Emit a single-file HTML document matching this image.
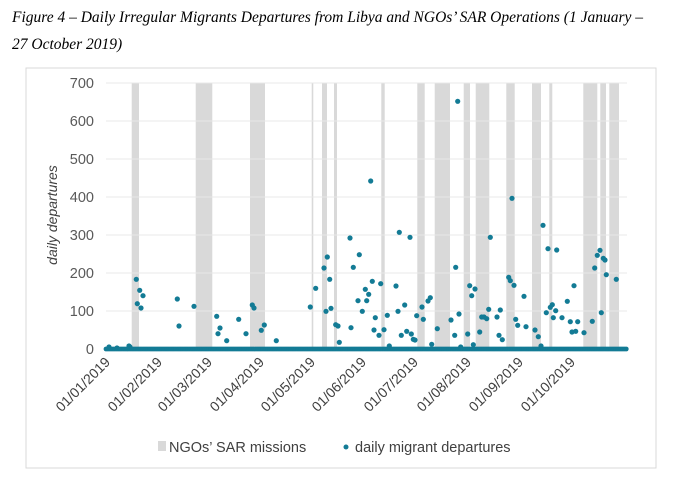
<!DOCTYPE html>
<html><head><meta charset="utf-8"><style>
body{margin:0;background:#fff;width:680px;height:481px;overflow:hidden}
</style></head><body>
<svg id="s" width="680" height="481" xmlns="http://www.w3.org/2000/svg" font-family="Liberation Sans, sans-serif">
<text x="12" y="22" font-family="Liberation Serif, serif" font-style="italic" font-size="15.5">Figure 4 – Daily Irregular Migrants Departures from Libya and NGOs’ SAR Operations (1 January –</text>
<text x="12" y="49" font-family="Liberation Serif, serif" font-style="italic" font-size="15.5">27 October 2019)</text>
<rect x="26" y="68" width="630" height="400" fill="none" stroke="#d9d9d9" stroke-width="1"/>
<g id="bands" fill="#d9d9d9"></g>
<g id="grid" stroke="#e8e8e8" stroke-width="1"></g>
<g id="ylab" font-size="14.5" fill="#595959" text-anchor="end"></g>
<text transform="translate(57,215) rotate(-90)" text-anchor="middle" font-size="14" font-style="italic" fill="#404040">daily departures</text>
<g id="xlab" font-size="14" fill="#404040" text-anchor="end"></g>
<g id="dots" fill="#137b95"></g>
<rect x="158" y="441" width="8" height="10" fill="#d9d9d9"/>
<text x="169" y="452" font-size="14.5" fill="#404040">NGOs’ SAR missions</text>
<circle cx="346" cy="447" r="2.5" fill="#137b95"/>
<text x="355" y="452" font-size="14.5" fill="#404040">daily migrant departures</text>
</svg>
<script>
var ns="http://www.w3.org/2000/svg";
function el(p,t,a,txt){var e=document.createElementNS(ns,t);for(var k in a)e.setAttribute(k,a[k]);if(txt)e.textContent=txt;document.getElementById(p).appendChild(e);}
var b=[[131.7,139],[195.7,212.3],[250,265],[311.7,313.3],[322,327],[334,337],[381.3,384.7],[417.3,424.7],[434.7,450],[463.7,470],[475.7,489.3],[506.3,514.7],[532,541],[549.3,552.3],[583.3,597.3],[600.3,606],[609.3,619]];
b.forEach(function(r){el("bands","rect",{x:r[0],y:83.5,width:r[1]-r[0],height:266});});
for(var i=0;i<=7;i++){var y=349-i*38;el("grid","line",{x1:106,x2:627,y1:y,y2:y});el("ylab","text",{x:94,y:y+5},String(i*100));}
var m=["01","02","03","04","05","06","07","08","09","10"],tx=[106,158,208,260,311,362,414,467,519,571];
for(var i=0;i<10;i++){el("xlab","text",{transform:"translate("+(tx[i]+5)+",363) rotate(-45)"},"01/"+m[i]+"/2019");}
var d=[[136.3,279.3],[139.7,290.3],[137.3,303.7],[141,308],[143,295.7],[177.3,299],[179,326],[194,306.3],[216.7,316.3],[218,333.7],[220,328],[226.7,340.7],[238.7,319.3],[246,333.7],[252.3,305],[254,308],[261.3,330.3],[264.3,325],[276.3,340.7],[310.3,307],[315.7,288.3],[324,268],[327.3,257],[329.7,279.3],[326,311.3],[331,308.3],[335.7,324.7],[338,326],[339.3,342.3],[350,238],[353.3,267.3],[351,327.7],[358,300.7],[359.3,254.7],[109,347],[117,348],[129,346],[130,347],
[362.3,311.3],[365.3,289.3],[366.7,300.7],[368.7,294.3],[370.7,181],[372.3,281.3],[374,330],[375.3,317.7],[379,335.3],[380.7,283.7],[384,329.7],[387.3,315.3],[389.3,346],[396,286],[398,311.3],[399.3,232.3],[401.3,335.3],[404.7,305],[406.7,331.3],[410,237.3],[411.3,334],[413.3,339.3],[415,340],[416.7,315.7],[422,307],[423.3,319.3],[428,301],[430.3,297.7],[431.7,344.3],[437.3,328.7],[451,320],[454.7,335.3],[455.7,267.3],[457.7,101.3],[459,314],[460.7,347],[467.7,334],[469.7,285.7],[471.7,295.7],[473.3,344.7],[475,289],[479.7,332],[481.7,317],[484,317],[486.7,318.7],[488.7,309.3],[490.3,237.3],[497,317],[499,335.3],[500.3,310],[502.3,339.7],[508.7,277.3],[510.3,280.7],[512,198.3],[514,285.3],[515.7,319.3],[517.7,325.3],[524,296.3],[526,326.7],[535,330],[538.3,336.7],[541,346],[543,225.3],[546.3,312.7],[548,248.7],[550.3,307.3],[552.3,304.7],[553.3,317.7],[555.7,310.7],[556.7,250],[562,317.7],[567.3,301.3],[570.3,321.7],[572,332],[574,285.7],[575.7,331.3],[577.7,321.7],[584,332.7],[592.3,321.3],[594.7,268],[597.3,255.3],[600,250.3],[601.3,312.7],[603.3,258.3],[605,260],[606.3,274.7],[616.3,279.3]];
d.forEach(function(p){el("dots","circle",{cx:p[0],cy:p[1],r:2.6});});
for(var x=106;x<=627;x+=1.74){el("dots","circle",{cx:x,cy:349,r:2.4});}
</script>
</body></html>
